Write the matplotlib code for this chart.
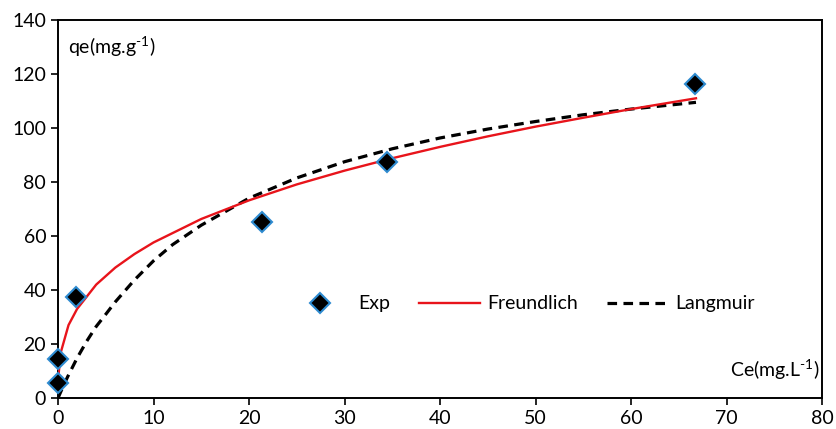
import matplotlib
matplotlib.use("Agg")
import matplotlib.pyplot as plt

# Experimental data
exp_ce = [0.0, 0.0, 1.9, 21.4, 34.4, 66.7]
exp_qe = [5.5, 14.6, 37.4, 65.0, 87.5, 116.3]

# Freundlich fitted curve
fr_ce = [0.05, 0.3, 1.1, 2, 4, 6, 8, 10, 15, 20, 25, 30, 35, 40, 45, 50, 55, 60, 66.8]
fr_qe = [8.5, 17.0, 27.0, 33.0, 42.0, 48.3, 53.3, 57.6, 66.3, 73.2, 79.1, 84.2,
         88.8, 93.0, 96.9, 100.5, 103.8, 107.0, 111.0]

# Langmuir fitted curve
la_ce = [0, 0.5, 1, 2, 3, 4, 5, 6, 8, 10, 12, 15, 20, 25, 30, 35, 40, 45, 50, 55, 60, 66.8]
la_qe = [0.0, 4.0, 7.8, 14.8, 21.0, 26.5, 31.0, 35.6, 43.7, 50.8, 56.8, 64.0, 74.0,
         81.5, 87.5, 92.3, 96.3, 99.6, 102.4, 104.9, 107.0, 109.5]

x_ticks = [0, 10, 20, 30, 40, 50, 60, 70, 80]
y_ticks = [0, 20, 40, 60, 80, 100, 120, 140]

plt.rcParams['font.family'] = ['Lato', 'DejaVu Sans']
plt.rcParams['mathtext.fontset'] = 'custom'
plt.rcParams['mathtext.rm'] = 'Lato'

fig = plt.figure(figsize=(8.36, 4.29), dpi=100)
ax = fig.add_axes([0.0694, 0.0723, 0.9139, 0.8811])

ax.plot(exp_ce, exp_qe, linestyle='none', marker='D', markersize=10,
        markerfacecolor='black', markeredgecolor='#2e8bd0', markeredgewidth=1.5,
        label='Exp', zorder=4, clip_on=False)
ax.plot(fr_ce, fr_qe, color='#e8141b', linewidth=1.7, label='Freundlich', zorder=3)
ax.plot(la_ce, la_qe, color='black', linewidth=2.3, linestyle=(0, (3, 2)),
        label='Langmuir', zorder=2)

ax.set_xlim(0, 80)
ax.set_ylim(0, 140)
ax.set_xticks(x_ticks)
ax.set_yticks(y_ticks)
ax.tick_params(axis='both', direction='out', length=5, width=1.2,
               labelsize=14, colors='black', top=False, right=False)
for sp in ax.spines.values():
    sp.set_linewidth(1.4)
    sp.set_color('black')

ax.text(0.013, 0.93, 'qe(mg.g$^{\\mathregular{\u20101}}$)', transform=ax.transAxes,
        fontsize=14, ha='left', va='center')
ax.text(0.997, 0.075, 'Ce(mg.L$^{\\mathregular{\u20101}}$)', transform=ax.transAxes,
        fontsize=14, ha='right', va='center')

ax.legend(loc='center', bbox_to_anchor=(0.608, 0.249), ncol=3, frameon=False,
          fontsize=14, handlelength=3.1, columnspacing=1.5, handletextpad=0.4)

fig.savefig('out.png', dpi=100)
